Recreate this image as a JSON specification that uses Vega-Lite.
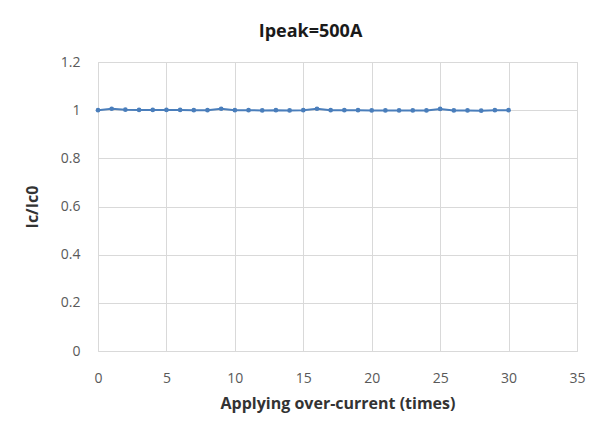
{
  "$schema": "https://vega.github.io/schema/vega-lite/v6.json",
  "width": 479,
  "height": 289,
  "autosize": "none",
  "padding": {"left": 98, "top": 62, "right": 36, "bottom": 87},
  "background": "white",
  "title": {
    "text": "Ipeak=500A",
    "font": "Open Sans",
    "fontSize": 18,
    "fontWeight": "bold",
    "color": "#1a1a1a",
    "anchor": "middle",
    "dx": -27,
    "offset": 14
  },
  "config": {
    "view": {"stroke": "#d9d9d9", "strokeWidth": 1},
    "axis": {
      "labelFont": "Open Sans",
      "labelFontSize": 14,
      "labelColor": "#595959",
      "labelFlush": false,
      "titleFont": "Open Sans",
      "titleFontSize": 16,
      "titleFontWeight": "bold",
      "titleColor": "#333333",
      "gridColor": "#d9d9d9",
      "gridWidth": 1,
      "domain": false,
      "ticks": false
    }
  },
  "data": {
    "values": [
      {"n": 0, "r": 1.0},
      {"n": 1, "r": 1.006},
      {"n": 2, "r": 1.002},
      {"n": 3, "r": 1.001},
      {"n": 4, "r": 1.001},
      {"n": 5, "r": 1.001},
      {"n": 6, "r": 1.001},
      {"n": 7, "r": 1.0},
      {"n": 8, "r": 1.0},
      {"n": 9, "r": 1.006},
      {"n": 10, "r": 1.0},
      {"n": 11, "r": 1.0},
      {"n": 12, "r": 0.999},
      {"n": 13, "r": 1.0},
      {"n": 14, "r": 0.999},
      {"n": 15, "r": 1.0},
      {"n": 16, "r": 1.006},
      {"n": 17, "r": 1.0},
      {"n": 18, "r": 1.0},
      {"n": 19, "r": 1.0},
      {"n": 20, "r": 0.999},
      {"n": 21, "r": 0.999},
      {"n": 22, "r": 0.999},
      {"n": 23, "r": 0.999},
      {"n": 24, "r": 0.999},
      {"n": 25, "r": 1.005},
      {"n": 26, "r": 0.999},
      {"n": 27, "r": 0.999},
      {"n": 28, "r": 0.998},
      {"n": 29, "r": 1.0},
      {"n": 30, "r": 1.0}
    ]
  },
  "encoding": {
    "x": {
      "field": "n",
      "type": "quantitative",
      "scale": {"domain": [0, 35], "nice": false, "zero": true},
      "axis": {
        "values": [0, 5, 10, 15, 20, 25, 30, 35],
        "title": "Applying  over-current (times)",
        "labelPadding": 20,
        "titlePadding": 10
      }
    },
    "y": {
      "field": "r",
      "type": "quantitative",
      "scale": {"domain": [0, 1.2], "nice": false},
      "axis": {
        "values": [0, 0.2, 0.4, 0.6, 0.8, 1, 1.2],
        "format": "~g",
        "title": "Ic/Ic0",
        "labelPadding": 18,
        "titlePadding": 20
      }
    }
  },
  "layer": [
    {"mark": {"type": "line", "color": "#4a7ebb", "strokeWidth": 2}},
    {"mark": {"type": "point", "filled": true, "color": "#4a7ebb", "size": 22, "opacity": 1}}
  ]
}
